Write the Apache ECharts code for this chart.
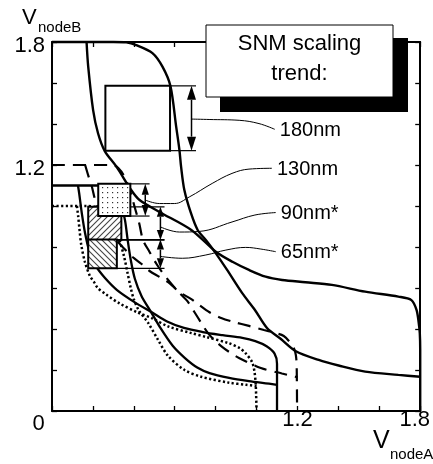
<!DOCTYPE html>
<html><head><meta charset="utf-8">
<script src="https://cdn.jsdelivr.net/npm/echarts@6/dist/echarts.min.js"></script>
<style>html,body{margin:0;padding:0;background:#fff}#c{width:433px;height:464px}</style>
</head><body><div id="c"></div>
<script>
// ---- data (volts) ----
const xTickLabels = ['0', '1.2', '1.8'];
const yTickLabels = ['1.2', '1.8'];
const nodes = ['180nm', '130nm', '90nm*', '65nm*'];

// curve A: V_nodeB vs V_nodeA ; curve B: the other inverter
const c180A = [[0,1.8],[0.30,1.8],[0.363,1.798],[0.412,1.785],[0.491,1.746],[0.540,1.680],[0.579,1.585],[0.607,1.387],[0.623,1.273],[0.631,1.192],[0.647,1.078],[0.679,0.966],[0.712,0.883],[0.752,0.834],[0.801,0.769],[0.856,0.688],[0.929,0.576],[0.992,0.493],[1.051,0.405],[1.119,0.351],[1.190,0.293],[1.304,0.249],[1.401,0.222],[1.531,0.192],[1.693,0.176],[1.8,0.167]];
const c180B = [[0.169,1.8],[0.177,1.68],[0.201,1.468],[0.225,1.355],[0.258,1.268],[0.315,1.192],[0.387,1.078],[0.428,1.029],[0.525,0.971],[0.681,0.883],[0.801,0.777],[0.882,0.728],[0.963,0.688],[1.044,0.655],[1.125,0.639],[1.239,0.628],[1.368,0.615],[1.531,0.582],[1.693,0.558],[1.757,0.541],[1.782,0.493],[1.793,0.428],[1.798,0.379],[1.8,0.3],[1.8,0]];
const c130A = [[0,1.2],[0.300,1.2],[0.324,1.185],[0.350,1.151],[0.370,1.107],[0.389,1.049],[0.404,0.995],[0.426,0.917],[0.445,0.834],[0.477,0.776],[0.511,0.717],[0.545,0.668],[0.584,0.620],[0.623,0.576],[0.661,0.537],[0.696,0.483],[0.730,0.429],[0.759,0.385],[0.793,0.346],[0.827,0.317],[0.866,0.288],[0.914,0.259],[1.021,0.210],[1.124,0.183],[1.190,0.167],[1.2,0.165]];
const c130B = [[0.162,1.2],[0.179,1.143],[0.195,1.094],[0.211,1.029],[0.233,0.971],[0.268,0.902],[0.306,0.844],[0.350,0.795],[0.394,0.751],[0.438,0.717],[0.477,0.683],[0.525,0.654],[0.574,0.624],[0.623,0.580],[0.681,0.546],[0.720,0.517],[0.768,0.483],[0.827,0.454],[0.890,0.434],[0.963,0.415],[1.036,0.395],[1.094,0.380],[1.133,0.366],[1.162,0.337],[1.182,0.307],[1.192,0.273],[1.196,0.224],[1.198,0]];
const c90A = [[0,1.1],[0.23,1.1],[0.28,1.088],[0.316,1.049],[0.341,0.994],[0.357,0.93],[0.37,0.834],[0.385,0.737],[0.405,0.645],[0.438,0.56],[0.48,0.49],[0.53,0.405],[0.59,0.318],[0.65,0.258],[0.71,0.212],[0.77,0.185],[0.866,0.162],[0.963,0.146],[1.061,0.133],[1.1,0.127]];
const c90B = [[0.127,1.1],[0.133,1.061],[0.146,0.963],[0.162,0.866],[0.185,0.77],[0.212,0.71],[0.258,0.65],[0.318,0.59],[0.405,0.53],[0.49,0.48],[0.56,0.438],[0.645,0.405],[0.737,0.385],[0.834,0.37],[0.93,0.357],[0.994,0.341],[1.049,0.316],[1.088,0.28],[1.1,0.23],[1.1,0]];
const c65A = [[0,1.0],[0.17,1.0],[0.22,0.995],[0.26,0.975],[0.29,0.94],[0.315,0.88],[0.33,0.834],[0.352,0.755],[0.37,0.67],[0.385,0.6],[0.40,0.545],[0.425,0.49],[0.47,0.43],[0.519,0.346],[0.568,0.268],[0.648,0.2],[0.73,0.167],[0.866,0.138],[0.95,0.128],[1.0,0.122]];
const c65B = [[0.122,1.0],[0.128,0.95],[0.135,0.88],[0.143,0.81],[0.161,0.727],[0.185,0.659],[0.205,0.63],[0.224,0.60],[0.265,0.568],[0.33,0.525],[0.42,0.48],[0.49,0.452],[0.569,0.412],[0.681,0.38],[0.754,0.361],[0.866,0.330],[0.92,0.305],[0.947,0.281],[0.978,0.239],[0.99,0.19],[0.996,0.127],[1.0,0]];

// SNM squares (volts): left edge, bottom edge, side
const snmLeft = [0.261, 0.226, 0.177, 0.177];
const snmBottom = [1.270, 0.951, 0.834, 0.696];
const snmSize = [0.316, 0.157, 0.162, 0.140];
// measurement arrows
const arrowX = [0.682, 0.456, 0.530, 0.530];
const extX = [0.704, 0.477, 0.550, 0.550];
// leader lines to labels
const lead180 = [[0.682,1.424],[0.768,1.422],[0.915,1.418],[1.012,1.402],[1.089,1.374]];
const lead130 = [[0.456,1.029],[0.525,1.012],[0.598,1.012],[0.671,1.044],[0.783,1.110],[0.880,1.159],[0.963,1.180],[1.075,1.184]];
const lead90 = [[0.530,0.898],[0.623,0.873],[0.720,0.876],[0.880,0.922],[0.992,0.956],[1.094,0.968]];
const lead65 = [[0.530,0.754],[0.637,0.745],[0.752,0.761],[0.850,0.785],[0.947,0.798],[1.021,0.790],[1.094,0.777]];

// ---- styles ----
const FONT = '"Liberation Sans", Arial, Helvetica, sans-serif';
function hatch(dir) {
  const c = document.createElement('canvas'); c.width = 6; c.height = 6;
  const g = c.getContext('2d');
  g.fillStyle = '#fff'; g.fillRect(0, 0, 6, 6);
  g.strokeStyle = '#444'; g.lineWidth = 1.1; g.beginPath();
  if (dir > 0) { g.moveTo(-1,7); g.lineTo(7,-1); g.moveTo(-1,1); g.lineTo(1,-1); g.moveTo(5,7); g.lineTo(7,5); }
  else { g.moveTo(-1,-1); g.lineTo(7,7); g.moveTo(5,-1); g.lineTo(7,1); g.moveTo(-1,5); g.lineTo(1,7); }
  g.stroke(); return c;
}
function dots() {
  const c = document.createElement('canvas'); c.width = 5; c.height = 5;
  const g = c.getContext('2d');
  g.fillStyle = '#fff'; g.fillRect(0, 0, 5, 5);
  g.fillStyle = '#333'; g.fillRect(2, 2, 1.2, 1.2);
  return c;
}
const squareFill = ['#fff', {image: dots(), repeat: 'repeat'}, {image: hatch(1), repeat: 'repeat'}, {image: hatch(-1), repeat: 'repeat'}];
const squareZ = [1, 10, 2, 3];
const headSize = [[14, 4.5], [11, 3.6], [10, 3.6], [10, 3.6]];

function near(a, b) { return Math.abs(a - b) < 1e-6; }
function tickFmt(list) {
  return function (v) {
    for (const s of list) if (near(v, parseFloat(s))) {
      if (s === '0') return '{z|0}';
      if (s === '1.8') return '{e|1.8}';
      return s;
    }
    return '';
  };
}
function yFmt(v) { for (const s of yTickLabels) if (near(v, parseFloat(s))) return '{y|' + s + '}'; return ''; }

function curve(name, data, width, type) {
  return { type: 'line', name, data, symbol: 'none', showSymbol: false, smooth: 0.3, clip: false, silent: true,
    lineStyle: { color: '#000', width, type, cap: 'butt' }, z: 2, animation: false };
}
function leader(name, data) {
  return { type: 'line', name, data, symbol: 'none', showSymbol: false, smooth: 0.4, clip: false, silent: true,
    lineStyle: { color: '#000', width: 1 }, z: 6, animation: false };
}
const axisCommon = {
  type: 'value', min: 0, max: 1.8, interval: 0.2,
  axisLine: { show: true, onZero: false, lineStyle: { color: '#000', width: 2 } },
  axisTick: { show: true, inside: true, length: 5, lineStyle: { color: '#000', width: 1.3 } },
  splitLine: { show: false }
};
const labelCommon = { fontSize: 22, fontFamily: FONT, color: '#000' };

const option = {
  animation: false,
  backgroundColor: '#fff',
  grid: { left: 52, top: 42, width: 370, height: 369 },
  xAxis: [
    Object.assign({}, axisCommon, { position: 'bottom',
      axisLabel: Object.assign({}, labelCommon, { margin: -2, formatter: tickFmt(xTickLabels),
        rich: { z: Object.assign({}, labelCommon, { padding: [4, 27, 0, 0] }), e: Object.assign({}, labelCommon, { padding: [0, 11, 0, 0] }) } }) }),
    Object.assign({}, axisCommon, { position: 'top', axisLabel: { show: false } })
  ],
  yAxis: [
    Object.assign({}, axisCommon, { position: 'left', axisLabel: Object.assign({}, labelCommon, { margin: 7, formatter: yFmt,
      rich: { y: Object.assign({}, labelCommon, { padding: [7, 0, 0, 0] }) } }) }),
    Object.assign({}, axisCommon, { position: 'right', axisLabel: { show: false } })
  ],
  series: [
    curve('180nm A', c180A, 2.4, 'solid'),
    curve('180nm B', c180B, 2.4, 'solid'),
    curve('130nm A', c130A, 2.2, [13, 8]),
    curve('130nm B', c130B, 2.2, [13, 8]),
    curve('90nm A', c90A, 2.3, 'solid'),
    curve('90nm B', c90B, 2.3, 'solid'),
    curve('65nm A', c65A, 2.5, [2.2, 2.4]),
    curve('65nm B', c65B, 2.5, [2.2, 2.4]),
    {
      type: 'custom', name: 'SNM squares', z: 5, silent: true, animation: false,
      data: snmLeft.map((x, i) => [x, snmBottom[i], snmSize[i]]),
      renderItem(params, api) {
        const i = params.dataIndex;
        const x0 = api.value(0), y0 = api.value(1), s = api.value(2);
        const a = api.coord([x0, y0 + s]), b = api.coord([x0 + s, y0]);
        return { type: 'rect', z2: squareZ[i], shape: { x: a[0], y: a[1], width: b[0] - a[0], height: b[1] - a[1] },
          style: { fill: squareFill[i], stroke: '#000', lineWidth: 2 } };
      }
    },
    {
      type: 'custom', name: 'SNM arrows', z: 4, silent: true, animation: false,
      data: arrowX.map((x, i) => [x, snmBottom[i], snmBottom[i] + snmSize[i], snmLeft[i] + snmSize[i], extX[i]]),
      renderItem(params, api) {
        const i = params.dataIndex;
        const ax = api.value(0), yb = api.value(1), yt = api.value(2), xr = api.value(3), xe = api.value(4);
        const pb = api.coord([ax, yb]), pt = api.coord([ax, yt]);
        const r1 = api.coord([xr, yt]), e1 = api.coord([xe, yt]);
        const r2 = api.coord([xr, yb]), e2 = api.coord([xe, yb]);
        const [hl, hw] = headSize[i];
        const ls = { stroke: '#000', lineWidth: 1.2 };
        return { type: 'group', children: [
          { type: 'line', shape: { x1: r1[0], y1: r1[1], x2: e1[0], y2: e1[1] }, style: ls },
          { type: 'line', shape: { x1: r2[0], y1: r2[1], x2: e2[0], y2: e2[1] }, style: ls },
          { type: 'line', shape: { x1: pt[0], y1: pt[1] + hl, x2: pb[0], y2: pb[1] - hl }, style: { stroke: '#000', lineWidth: 1.5 } },
          { type: 'polygon', shape: { points: [[pt[0], pt[1]], [pt[0] - hw, pt[1] + hl], [pt[0] + hw, pt[1] + hl]] }, style: { fill: '#000' } },
          { type: 'polygon', shape: { points: [[pb[0], pb[1]], [pb[0] - hw, pb[1] - hl], [pb[0] + hw, pb[1] - hl]] }, style: { fill: '#000' } }
        ] };
      }
    },
    leader('lead 180nm', lead180),
    leader('lead 130nm', lead130),
    leader('lead 90nm', lead90),
    leader('lead 65nm', lead65)
  ]
};

const chart = echarts.init(document.getElementById('c'), null, { renderer: 'canvas' });
chart.setOption(option);

const leaders = [lead180, lead130, lead90, lead65];
const graphics = [
  { type: 'rect', z: 50, shape: { x: 220, y: 38, width: 188, height: 74 }, style: { fill: '#000' } },
  { type: 'rect', z: 51, shape: { x: 206, y: 25, width: 187, height: 72 }, style: { fill: '#fff', stroke: '#000', lineWidth: 1 } },
  { type: 'text', z: 52, x: 299.5, y: 43.5, style: { text: 'SNM scaling', font: '22px ' + FONT, fill: '#000', align: 'center', verticalAlign: 'middle' } },
  { type: 'text', z: 52, x: 299.5, y: 73.5, style: { text: 'trend:', font: '22px ' + FONT, fill: '#000', align: 'center', verticalAlign: 'middle' } },
  { type: 'text', z: 52, x: 22, y: 17.5, style: { text: 'V', font: '22px ' + FONT, fill: '#000', align: 'left', verticalAlign: 'middle' } },
  { type: 'text', z: 52, x: 38, y: 28, style: { text: 'nodeB', font: '15px ' + FONT, fill: '#000', align: 'left', verticalAlign: 'middle' } },
  { type: 'text', z: 52, x: 373, y: 441, style: { text: 'V', font: '25px ' + FONT, fill: '#000', align: 'left', verticalAlign: 'middle' } },
  { type: 'text', z: 52, x: 390, y: 454.5, style: { text: 'nodeA', font: '15px ' + FONT, fill: '#000', align: 'left', verticalAlign: 'middle' } }
];
leaders.forEach((L, i) => {
  const p = chart.convertToPixel({ xAxisIndex: 0, yAxisIndex: 0 }, L[L.length - 1]);
  graphics.push({ type: 'text', z: 52, x: p[0] + 5, y: p[1] + 1, style: { text: nodes[i], font: '20px ' + FONT, fill: '#000', align: 'left', verticalAlign: 'middle' } });
});
chart.setOption({ graphic: graphics });
</script>
</body></html>
